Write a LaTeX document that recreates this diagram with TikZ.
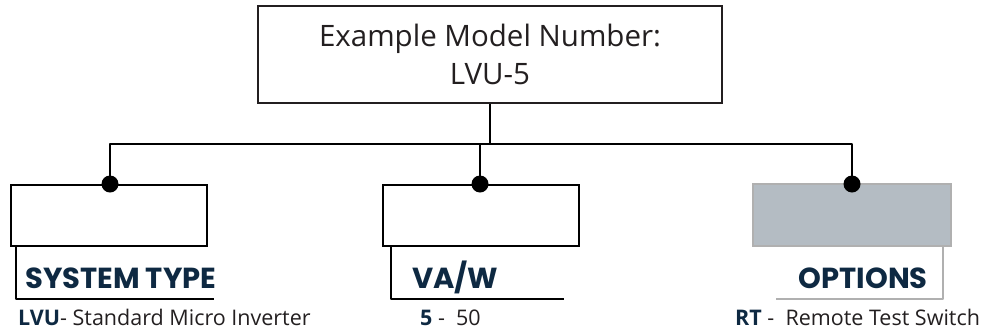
\documentclass[tikz,border=0pt]{standalone}
\usepackage{fontspec}
\setmainfont{Open Sans}
\newfontfamily\headfont{Poppins}[UprightFont=*-Bold]
\usetikzlibrary{calc}
\definecolor{navy}{RGB}{14,41,66}
\definecolor{ink}{RGB}{35,31,32}
\definecolor{optfill}{RGB}{180,188,195}
\definecolor{optline}{RGB}{176,176,176}
\tikzset{
	topbox/.style={draw=ink, line width=2pt, minimum width=464pt, minimum height=97pt, align=center, font=\fontsize{29.5}{38}\selectfont, text=ink},
	fieldbox/.style={draw=black, line width=1.8pt, minimum width=196pt, minimum height=61pt},
	optbox/.style={draw=optline, fill=optfill, line width=1.5pt, minimum width=198pt, minimum height=62pt},
	dot/.style={circle, fill=black, inner sep=0pt, minimum size=17pt},
	heading/.style={font=\headfont\fontsize{29}{34}\selectfont, text=navy, inner sep=0pt},
	desc/.style={font=\fontsize{21.5}{26}\selectfont, text=ink, inner sep=0pt},
	wire/.style={line width=1.8pt, line join=round}
}
\begin{document}
\begin{tikzpicture}[x=1pt, y=-1pt]
			%%%%% START %%%%%
			\useasboundingbox (0,0) rectangle (990,330);
			
			\node[topbox] (model) at (490, 54.5) {Example Model Number:\\LVU-5};
			
			\node[fieldbox] (system) at (109, 215.5) {};
			\node[fieldbox] (vaw) at (481, 215.5) {};
			\node[optbox] (options) at (852, 215) {};
			
			\coordinate (bus) at ($(model.south)+(0,40)$);
			\node[dot] (dsys) at (110, 184) {};
			\node[dot] (dvaw) at (480, 184) {};
			\node[dot] (dopt) at (852, 184) {};
			
			\draw[wire] (model.south) -- (bus);
			\draw[wire] (dsys.center) |- (bus) -| (dopt.center);
			\draw[wire] (dvaw.center) -- (dvaw |- bus);
			
			% underline brackets
			\draw[wire] ([xshift=6pt]system.south west) |- ++(198, 52);
			\draw[wire] ([xshift=9pt]vaw.south west) |- ++(173, 52);
			\draw[wire, draw=optline] ([xshift=-9pt]options.south east) |- ++(-167, 52);
			
			\node[heading, anchor=base west] (hsys) at (25, 288) {SYSTEM TYPE};
			\node[heading, anchor=base west] (hvaw) at (412, 288) {VA/W};
			\node[heading, anchor=base east] (hopt) at (928, 288) {OPTIONS};
			
			\node[desc, anchor=base west] (tsys) at (18, 325) {\textbf{\color{navy}LVU}- Standard Micro Inverter};
			\node[desc, anchor=base west] (tvaw) at (420, 325) {\textbf{\color{navy}5} -\ \ 50};
			\node[desc, anchor=base west] (topt) at (735, 325) {\textbf{\color{navy}RT} -\ \ Remote Test Switch};
			
			%%%%% END %%%%%
\end{tikzpicture}
\end{document}
